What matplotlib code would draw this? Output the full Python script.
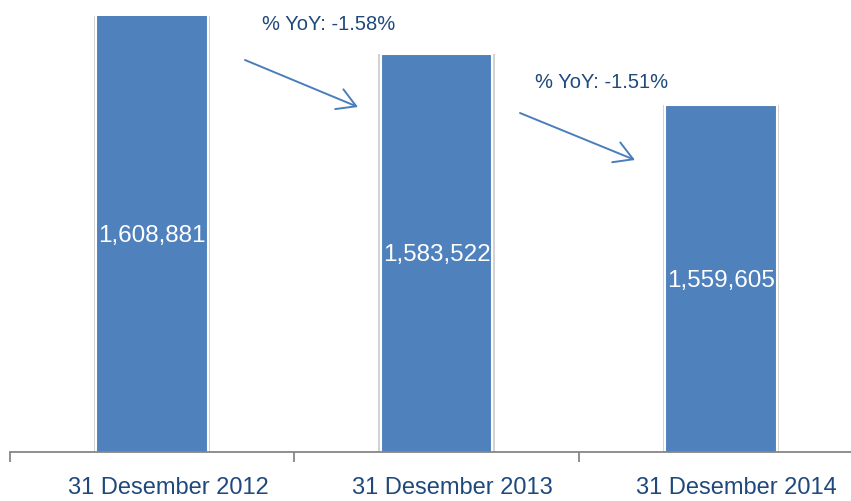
import matplotlib
matplotlib.use("Agg")
import matplotlib.pyplot as plt
from matplotlib.ticker import FixedLocator
from matplotlib.transforms import ScaledTranslation

categories = ["31 Desember 2012", "31 Desember 2013", "31 Desember 2014"]
values = [1608881, 1583522, 1559605]
yoy_labels = ["% YoY: -1.58%", "% YoY: -1.51%"]

plt.rcParams['font.family'] = ['Liberation Sans', 'DejaVu Sans']

W, H = 851, 501
fig = plt.figure(figsize=(W / 100, H / 100), dpi=100)
ax = fig.add_axes([10 / W, (H - 452) / H, 841 / W, 436 / H])

x = list(range(len(categories)))
bar_color = "#4F81BD"
text_color = "#1F497D"

# soft shadow behind bars
ax.bar(x, values, width=0.41, color="#7f7f7f", alpha=0.35, zorder=1, linewidth=0)
ax.bar(x, values, width=0.392, color=bar_color, edgecolor="white", linewidth=1.5, zorder=2)

ymin, ymax = 1396900, 1601400
ax.set_ylim(ymin, ymax)
ax.set_xlim(-0.5, 2.458)

for xi, v in zip(x, values):
    top = min(v, ymax)
    ax.text(xi, (ymin + top) / 2 - 1000, f"{v:,}", color="white", ha="center", va="center",
            fontsize=17.5, zorder=3)

for s in ["top", "right", "left"]:
    ax.spines[s].set_visible(False)
ax.spines["bottom"].set_color("#868686")
ax.spines["bottom"].set_linewidth(1.3)
ax.set_yticks([])

ax.set_xticks(x)
ax.set_xticklabels(categories, fontsize=17, color=text_color)
ax.tick_params(axis="x", which="major", length=0, pad=18)
shift = ScaledTranslation(16 / 100, 0, fig.dpi_scale_trans)
for lbl in ax.get_xticklabels():
    lbl.set_transform(lbl.get_transform() + shift)
ax.xaxis.set_minor_locator(FixedLocator([-0.5, 0.5, 1.5, 2.5]))
ax.tick_params(axis="x", which="minor", length=7.5, width=1.3, color="#868686", direction="out")

# YoY annotations (figure pixel coordinates, origin bottom-left)
def fp(px, py):
    return (px, H - py)

ann = [
    (yoy_labels[0], (329, 25), (245, 60), (358, 107)),
    (yoy_labels[1], (602, 82), (520, 113), (635, 160)),
]
for label, tpos, start, end in ann:
    fig.text(tpos[0] / W, 1 - tpos[1] / H, label, ha="center", va="center",
             fontsize=14.5, color=text_color)
    ax.annotate("", xy=fp(*end), xycoords="figure pixels",
                xytext=fp(*start), textcoords="figure pixels",
                arrowprops=dict(arrowstyle="->,head_length=0.6,head_width=0.35",
                                color="#4A7EBB", lw=1.4,
                                mutation_scale=22, shrinkA=0, shrinkB=0))

fig.savefig("out.png", dpi=100)
